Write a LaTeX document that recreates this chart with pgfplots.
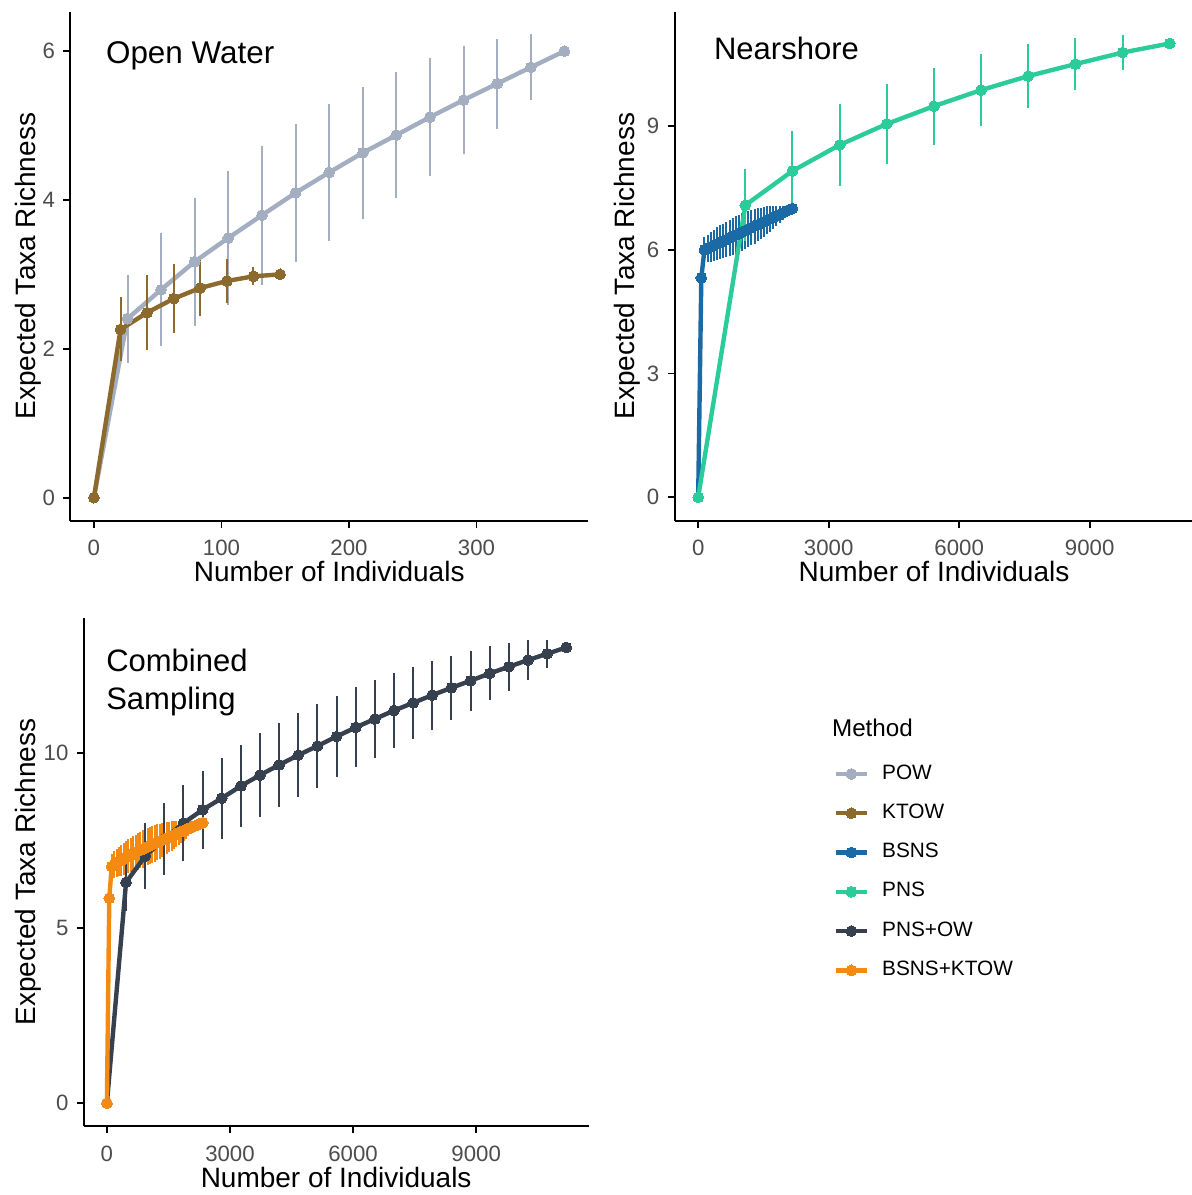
\documentclass[border=0pt]{standalone}
\usepackage{fontspec}
\setmainfont{Liberation Sans}
\usepackage{pgfplots}
\pgfplotsset{compat=1.18}
\usepackage{pgfplotstable}

\definecolor{cPOW}{HTML}{A3AEC0}
\definecolor{cKTOW}{HTML}{8C6A2E}
\definecolor{cBSNS}{HTML}{1A6AA6}
\definecolor{cPNS}{HTML}{2CCB9A}
\definecolor{cPNSOW}{HTML}{36404F}
\definecolor{cBK}{HTML}{F58A12}
\definecolor{tickgray}{HTML}{4D4D4D}

\pgfplotstableread{
x y e
0 0 0
26.36 2.405 0.59
52.71 2.795 0.76
79.07 3.172 0.86
105.43 3.490 0.90
131.79 3.795 0.935
158.14 4.096 0.93
184.5 4.370 0.92
210.86 4.634 0.89
237.21 4.872 0.845
263.57 5.114 0.795
289.93 5.343 0.72
316.29 5.563 0.605
342.64 5.783 0.445
369 6.000 0
}\tPOW

\pgfplotstableread{
x y e
0 0 0
20.86 2.26 0.43
41.71 2.486 0.505
62.57 2.674 0.46
83.43 2.817 0.38
104.29 2.911 0.30
125.14 2.974 0.12
146 3.000 0
}\tKTOW

\pgfplotstableread{
x y e
0 0 0
1084 7.08 0.87
2168 7.91 0.96
3252 8.54 0.985
4336 9.05 0.97
5420 9.48 0.93
6504 9.87 0.87
7588 10.21 0.765
8672 10.50 0.625
9756 10.78 0.435
10840 11.00 0
}\tPNS

\pgfplotstableread{
x y e
0 0 0
72 5.32 0
144 6.000 0.30
216 6.036 0.33
288 6.071 0.36
360 6.107 0.38
432 6.143 0.40
504 6.179 0.41
576 6.214 0.42
648 6.250 0.43
720 6.286 0.44
792 6.321 0.44
864 6.357 0.45
936 6.393 0.45
1008 6.429 0.45
1080 6.464 0.44
1152 6.500 0.44
1224 6.536 0.43
1296 6.571 0.42
1368 6.607 0.40
1440 6.643 0.38
1512 6.679 0.36
1584 6.714 0.34
1656 6.750 0.31
1728 6.786 0.28
1800 6.821 0.25
1872 6.857 0.21
1944 6.893 0.17
2016 6.929 0.12
2088 6.964 0.07
2163 7.000 0
}\tBSNS

\pgfplotstableread{
x y e
0 0 0
466.5 6.30 0.83
933 7.05 0.93
1399.5 7.54 1.03
1866 7.99 1.09
2332.5 8.37 1.12
2799 8.70 1.16
3265.5 9.05 1.18
3732 9.36 1.19
4198.5 9.65 1.19
4665 9.93 1.19
5131.5 10.19 1.19
5598 10.46 1.16
6064.5 10.72 1.14
6531 10.96 1.12
6997.5 11.20 1.08
7464 11.42 1.03
7930.5 11.64 0.98
8397 11.85 0.92
8863.5 12.05 0.85
9330 12.26 0.77
9796.5 12.45 0.68
10263 12.64 0.56
10729.5 12.82 0.40
11196 13.00 0
}\tPNSOW

\pgfplotstableread{
x y e
0 0 0
58 5.85 0
117 6.750 0.35
175 6.807 0.38
234 6.852 0.40
292 6.894 0.42
350 6.934 0.44
409 6.973 0.46
467 7.010 0.47
526 7.047 0.48
584 7.083 0.49
642 7.117 0.50
701 7.152 0.51
759 7.186 0.52
818 7.219 0.52
876 7.252 0.53
934 7.285 0.53
993 7.317 0.53
1051 7.349 0.53
1110 7.381 0.52
1168 7.412 0.52
1226 7.444 0.51
1285 7.474 0.50
1343 7.505 0.49
1402 7.536 0.48
1460 7.566 0.46
1518 7.596 0.44
1577 7.626 0.42
1635 7.655 0.40
1694 7.685 0.38
1752 7.714 0.35
1810 7.744 0.32
1869 7.773 0.29
1927 7.801 0.25
1986 7.830 0.22
2044 7.859 0.18
2102 7.887 0.14
2161 7.916 0.10
2219 7.944 0.06
2278 7.972 0.03
2336 8.000 0
}\tBK

\pgfplotsset{
  panel/.style={
    scale only axis, axis lines=left,
    axis line style={-, line width=1pt, black},
    tick align=outside, major tick length=3.5pt,
    every tick/.style={black, line width=0.9pt},
    tick label style={font=\fontsize{11.1}{13}\selectfont, text=tickgray},
    xticklabel style={anchor=north, inner sep=0pt, yshift=-6.15pt},
    yticklabel style={anchor=east, inner sep=0pt, xshift=-4pt},
    /pgf/number format/assume math mode=true,
    /pgf/number format/set thousands separator={},
    scaled ticks=false,
    xlabel={Number of Individuals}, ylabel={Expected Taxa Richness},
    label style={font=\fontsize{14}{16}\selectfont},
    xlabel style={at={(axis description cs:0.5,0)}, anchor=base, yshift=-30.6pt},
    clip=false,
  },
  lin/.style={color=#1, line width=2.2pt, mark=*, mark size=2.7pt,
    mark options={solid, fill=#1, draw=#1, line width=0pt}},
  ser/.style={lin=#1,
    error bars/y dir=both, error bars/y explicit, error bars/error mark=none,
    error bars/error bar style={line width=1pt, draw=#1}},
  ebonly/.style={draw=none, mark=none,
    error bars/y dir=both, error bars/y explicit, error bars/error mark=none,
    error bars/error bar style={line width=1pt, draw=#1}},
}

\begin{document}
\begin{tikzpicture}
\useasboundingbox (0,0) rectangle (595.5pt,597.5pt);

% Open Water
\begin{axis}[panel, at={(35.2pt,337.15pt)}, anchor=south west,
  width=258.8pt, height=254.5pt,
  xmin=-18.45, xmax=387.5, ymin=-0.31, ymax=6.53,
  xtick={0,100,200,300}, ytick={0,2,4,6},
  ylabel style={at={(axis description cs:-0.0813,0.5)}, anchor=center}]
\addplot[ser=cPOW] table[x=x,y=y,y error=e] {\tPOW};
\addplot[ser=cKTOW] table[x=x,y=y,y error=e] {\tKTOW};
\end{axis}

% Nearshore
\begin{axis}[panel, at={(337.3pt,337.15pt)}, anchor=south west,
  width=259.35pt, height=254.5pt,
  xmin=-542, xmax=11382, ymin=-0.567, ymax=11.77,
  xtick={0,3000,6000,9000}, ytick={0,3,6,9},
  ylabel style={at={(axis description cs:-0.0905,0.5)}, anchor=center}]
\addplot[ser=cBSNS] table[x=x,y=y,y error=e] {\tBSNS};
\addplot[ser=cPNS] table[x=x,y=y,y error=e] {\tPNS};
\end{axis}

% Combined
\begin{axis}[panel, at={(41.9pt,34.5pt)}, anchor=south west,
  width=252.35pt, height=254pt,
  xmin=-563, xmax=11738, ymin=-0.647, ymax=13.84,
  xtick={0,3000,6000,9000}, ytick={0,5,10},
  ylabel style={at={(axis description cs:-0.110,0.5)}, anchor=center},
  legend style={draw=none, fill=none, inner sep=0pt, outer sep=0pt,
    at={(1.4851,0.7124)}, anchor=north west,
    font=\fontsize{10.4}{12}\selectfont,
    row sep=9.85pt, column sep=6.35pt,
    nodes={inner sep=0pt, text height=7.5pt, text depth=2.3pt}},
  legend cell align=left,
  legend image code/.code={\draw[mark repeat=2,mark phase=2,#1] plot coordinates {(0pt,0pt) (7.9pt,0pt) (15.85pt,0pt)};}]
\addplot[forget plot, ebonly=cBK] table[x=x,y=y,y error=e] {\tBK};
\addplot[forget plot, ser=cPNSOW] table[x=x,y=y,y error=e] {\tPNSOW};
\addplot[forget plot, lin=cBK] table[x=x,y=y] {\tBK};
\addlegendimage{lin=cPOW}
\addlegendentry{POW}
\addlegendimage{lin=cKTOW}
\addlegendentry{KTOW}
\addlegendimage{lin=cBSNS}
\addlegendentry{BSNS}
\addlegendimage{lin=cPNS}
\addlegendentry{PNS}
\addlegendimage{lin=cPNSOW}
\addlegendentry{PNS+OW}
\addlegendimage{lin=cBK}
\addlegendentry{BSNS+KTOW}
\end{axis}

\node[anchor=base west, inner sep=0pt, font=\fontsize{15.7}{18}\selectfont] at (52.85pt,565.5pt) {Open Water};
\node[anchor=base west, inner sep=0pt, font=\fontsize{15.5}{18}\selectfont] at (356.85pt,567.5pt) {Nearshore};
\node[anchor=base west, inner sep=0pt, font=\fontsize{15.5}{18}\selectfont] at (52.95pt,261.65pt) {Combined};
\node[anchor=base west, inner sep=0pt, font=\fontsize{15.5}{18}\selectfont] at (52.95pt,242.85pt) {Sampling};
\node[anchor=base west, inner sep=0pt, font=\fontsize{12.1}{14}\selectfont] at (415.85pt,229.15pt) {Method};
\end{tikzpicture}
\end{document}
